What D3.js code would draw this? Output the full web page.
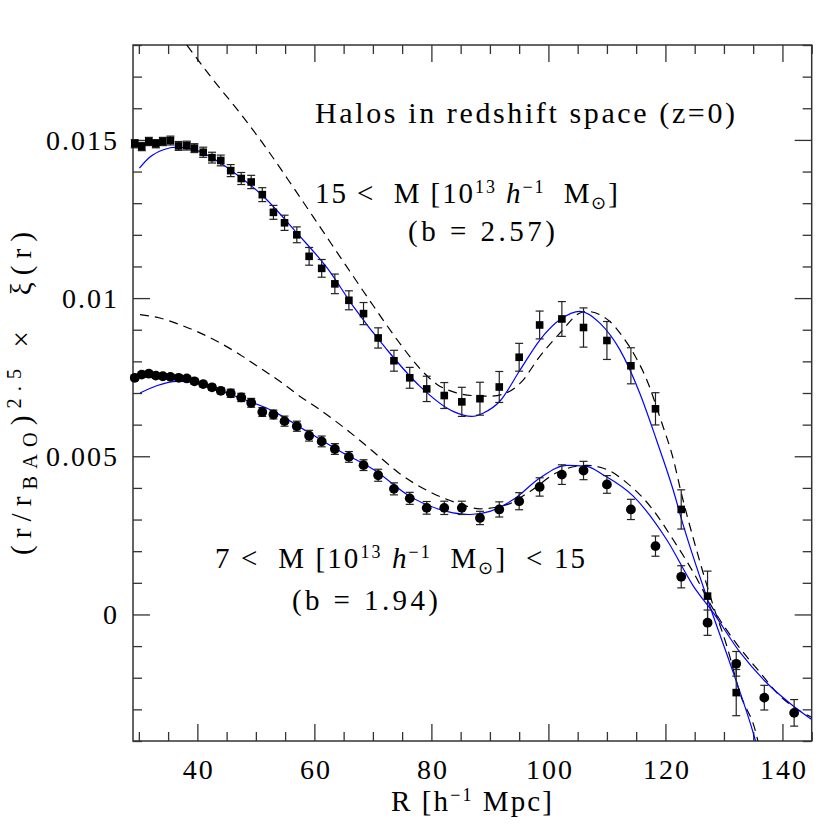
<!DOCTYPE html>
<html>
<head>
<meta charset="utf-8">
<script src="https://cdnjs.cloudflare.com/ajax/libs/d3/7.8.5/d3.min.js"></script>
<style>
  html, body { margin: 0; padding: 0; background: #fff; }
  svg { display: block; font-family: "Liberation Serif", serif; }
  text { white-space: pre; }
</style>
</head>
<body>
<script>
// separation bins, R [h^-1 Mpc]
const rBins = [29.3, 30.5, 31.7, 32.9, 34.1, 35.4, 36.8, 38.2, 39.5, 41.0, 42.5, 44.0, 45.7, 47.5,
  49.2, 51.1, 53.0, 54.9, 57.0, 59.1, 61.25, 63.5, 65.9, 68.4, 70.9, 73.6, 76.3, 79.2, 82.2, 85.2,
  88.3, 91.6, 95.0, 98.5, 102.3, 106.0, 110.0, 114.1, 118.3, 122.7, 127.2, 132.1, 136.9, 142.0];

// 15 < M  (squares)
const hiXi = [0.01488, 0.01479, 0.01495, 0.01488, 0.01495, 0.01498, 0.01481, 0.01482, 0.01474, 0.01461,
  0.01444, 0.01435, 0.01403, 0.01378, 0.01367, 0.01327, 0.01271, 0.01238, 0.01200, 0.01132, 0.01094,
  0.01045, 0.00993, 0.00951, 0.00874, 0.00802, 0.00748, 0.00713, 0.00692, 0.00672, 0.00682, 0.00719,
  0.00813, 0.00915, 0.00934, 0.00907, 0.00866, 0.00786, 0.00650, 0.00332, 0.00058, -0.00247, null, null];
const hiErr = [0.00013, 0.00013, 0.00013, 0.00013, 0.00013, 0.00014, 0.00014, 0.00014, 0.00014, 0.00016,
  0.00017, 0.00017, 0.00019, 0.00019, 0.00021, 0.00022, 0.00022, 0.00024, 0.00025, 0.00028, 0.00028,
  0.00031, 0.00030, 0.00035, 0.00032, 0.00033, 0.00033, 0.00040, 0.00041, 0.00046, 0.00052, 0.00049,
  0.00044, 0.00044, 0.00055, 0.00062, 0.00060, 0.00057, 0.00051, 0.00062, 0.00079, 0.00073, null, null];

// 7 < M < 15  (circles)
const loXi = [0.00748, 0.00758, 0.00761, 0.00755, 0.00753, 0.00751, 0.00748, 0.00746, 0.00737, 0.00728,
  0.00718, 0.00707, 0.00699, 0.00686, 0.00669, 0.00640, 0.00632, 0.00611, 0.00595, 0.00565, 0.00547,
  0.00523, 0.00498, 0.00472, 0.00440, 0.00397, 0.00367, 0.00337, 0.00337, 0.00337, 0.00305, 0.00332,
  0.00358, 0.00403, 0.00442, 0.00455, 0.00411, 0.00332, 0.00216, 0.00119, -0.00026, -0.00156, -0.00263, -0.00311];
const loErr = [0.00008, 0.00008, 0.00008, 0.00008, 0.00008, 0.00008, 0.00008, 0.00008, 0.00009, 0.00009,
  0.00009, 0.00009, 0.00013, 0.00013, 0.00014, 0.00014, 0.00014, 0.00016, 0.00016, 0.00017, 0.00017,
  0.00017, 0.00017, 0.00017, 0.00019, 0.00019, 0.00019, 0.00020, 0.00021, 0.00021, 0.00021, 0.00024,
  0.00027, 0.00029, 0.00031, 0.00029, 0.00028, 0.00032, 0.00032, 0.00035, 0.00040, 0.00039, 0.00039, 0.00042];

// model curves (blue = fitted, dashed = linear)
const hiFitR = [30.1, 31.9, 34.2, 36.5, 39.9, 45.6, 51.3, 57.0, 62.4, 66.65, 72.4, 78.05, 83.7, 86.9, 88.9,
  91.7, 95.1, 98.6, 102.0, 105.4, 108.8, 112.2, 115.6, 118.5, 121.3, 123.1, 127.6, 131.6, 135.0, 135.4];
const hiFitXi = [0.01411, 0.01446, 0.01469, 0.01477, 0.01467, 0.01406, 0.01321, 0.01206, 0.01090, 0.00974,
  0.00837, 0.00721, 0.00642, 0.00626, 0.00637, 0.00674, 0.00771, 0.00869, 0.00932, 0.00958, 0.00921,
  0.00837, 0.00700, 0.00550, 0.00395, 0.00279, 0.00026, -0.00184, -0.00374, -0.0040];
const hiLinR = [38.2, 42.7, 47.3, 51.85, 56.4, 60.96, 65.5, 70.1, 74.4, 78.1, 80.9, 84.0, 87.0, 90.0, 92.5,
  95.4, 98.3, 102.0, 105.4, 106.5, 110.5, 112.2, 114.5, 116.8, 119.3, 121.5, 122.5, 125.3, 128.2, 130.5,
  132.7, 135.6, 135.8];
const hiLinXi = [0.0180, 0.01690, 0.01585, 0.01472, 0.01350, 0.01225, 0.01100, 0.00975, 0.00862, 0.00776,
  0.00728, 0.00702, 0.00692, 0.00690, 0.00698, 0.00735, 0.00810, 0.00890, 0.00953, 0.00958, 0.00926,
  0.00890, 0.00827, 0.00742, 0.00610, 0.00480, 0.00400, 0.00205, 0.00026, -0.00100, -0.00247, -0.00384, -0.0040];
const loFitR = [30.2, 33.05, 36.5, 38.7, 42.7, 47.3, 53.0, 58.7, 64.4, 70.1, 76.7, 82.6, 86.6, 90.0, 94.0,
  98.6, 103.1, 106.5, 109.5, 114.5, 120.2, 124.8, 128.2, 132.8, 137.3, 141.9, 145.0];
const loFitXi = [0.00700, 0.00723, 0.00737, 0.00736, 0.00716, 0.00684, 0.00642, 0.00579, 0.00516, 0.00458,
  0.00369, 0.00326, 0.00316, 0.00326, 0.00363, 0.00432, 0.00471, 0.00468, 0.00440, 0.00374, 0.00237,
  0.00089, 0.00005, -0.00121, -0.00216, -0.00290, -0.00332];
const loLinR = [30.2, 33.6, 37.0, 40.45, 43.9, 47.3, 50.7, 54.1, 57.5, 60.96, 64.4, 67.8, 71.2, 74.6, 79.8,
  84.3, 88.3, 92.9, 96.85, 101.4, 106.5, 110.0, 113.4, 117.4, 121.3, 124.8, 128.2, 131.6, 136.2, 139.6, 143.0, 145.0];
const loLinXi = [0.00948, 0.00937, 0.00916, 0.00890, 0.00858, 0.00821, 0.00779, 0.00737, 0.00690, 0.00647,
  0.00600, 0.00550, 0.00497, 0.00445, 0.00387, 0.00353, 0.00334, 0.00347, 0.00389, 0.00448, 0.00471,
  0.00458, 0.00416, 0.00342, 0.00237, 0.00132, 0.00016, -0.00079, -0.00184, -0.00258, -0.00305, -0.00325];

const xTicks = [40, 60, 80, 100, 120, 140];
const yTicks = [0, 0.005, 0.01, 0.015];

const W = 830, H = 830;
const margin = {top: 45, right: 18.3, bottom: 89, left: 133};
const w = W - margin.left - margin.right;
const h = H - margin.top - margin.bottom;

const svg = d3.select("body").append("svg")
  .attr("width", W).attr("height", H);

const g = svg.append("g").attr("transform", `translate(${margin.left},${margin.top})`);

const x = d3.scaleLinear().domain([29, 145]).range([0, w]);
const y = d3.scaleLinear().domain([-0.004, 0.018]).range([h, 0]);

svg.append("defs").append("clipPath").attr("id", "plot")
  .append("rect").attr("width", w).attr("height", h);

// axes: minor + major ticks on all four sides, pointing inward
const axisColor = "#333";
const xMinor = x.ticks(24).filter(d => !xTicks.includes(d));
const yMinor = y.ticks(22).filter(d => !yTicks.some(t => Math.abs(t - d) < 1e-9));

function styleAxis(sel) {
  sel.select(".domain").remove();
  sel.selectAll("line").attr("stroke", axisColor).attr("stroke-width", 1.3);
}
function styleLabels(sel) {
  sel.attr("fill", "#000").attr("font-size", 28)
    .attr("font-family", "Liberation Serif").attr("letter-spacing", 2);
}

g.append("g").attr("transform", `translate(0,${h})`)
  .call(d3.axisBottom(x).tickValues(xMinor).tickSize(-9).tickFormat("")).call(styleAxis);
g.append("g").attr("transform", `translate(0,${h})`)
  .call(d3.axisBottom(x).tickValues(xTicks).tickSize(-17).tickFormat(d3.format("d")))
  .call(styleAxis)
  .call(s => s.selectAll("text").attr("y", 38).attr("dy", null).attr("dx", "1").call(styleLabels));
g.append("g").call(d3.axisTop(x).tickValues(xMinor).tickSize(-9).tickFormat("")).call(styleAxis);
g.append("g").call(d3.axisTop(x).tickValues(xTicks).tickSize(-17).tickFormat("")).call(styleAxis);

g.append("g").call(d3.axisLeft(y).tickValues(yMinor).tickSize(-9).tickFormat("")).call(styleAxis);
g.append("g")
  .call(d3.axisLeft(y).tickValues(yTicks).tickSize(-17).tickFormat(d3.format("~g")))
  .call(styleAxis)
  .call(s => s.selectAll("text").attr("x", -14).attr("dy", "0.34em").call(styleLabels));
g.append("g").attr("transform", `translate(${w},0)`)
  .call(d3.axisRight(y).tickValues(yMinor).tickSize(-9).tickFormat("")).call(styleAxis);
g.append("g").attr("transform", `translate(${w},0)`)
  .call(d3.axisRight(y).tickValues(yTicks).tickSize(-17).tickFormat("")).call(styleAxis);

g.append("rect").attr("width", w).attr("height", h)
  .attr("fill", "none").attr("stroke", axisColor).attr("stroke-width", 1.5);

// model curves
const curves = g.append("g").attr("clip-path", "url(#plot)");
const line = d3.line().x(d => x(d[0])).y(d => y(d[1])).curve(d3.curveMonotoneX);
const pair = (rs, vs) => rs.map((r, i) => [r, vs[i]]);

[[hiLinR, hiLinXi], [loLinR, loLinXi]].forEach(([rs, vs]) => {
  curves.append("path").attr("d", line(pair(rs, vs)))
    .attr("fill", "none").attr("stroke", "#000").attr("stroke-width", 1.2)
    .attr("stroke-dasharray", "9,6");
});
[[hiFitR, hiFitXi], [loFitR, loFitXi]].forEach(([rs, vs]) => {
  curves.append("path").attr("d", line(pair(rs, vs)))
    .attr("fill", "none").attr("stroke", "#0000ff").attr("stroke-width", 1.2);
});

// measurements with error bars
function points(vals, errs, shape) {
  const data = rBins.map((r, i) => ({r, v: vals[i], e: errs[i]})).filter(d => d.v !== null);
  const grp = g.append("g");
  const bars = grp.selectAll("g.bar").data(data).enter().append("g").attr("class", "bar")
    .attr("stroke", "#222").attr("stroke-width", 1.2);
  bars.append("line")
    .attr("x1", d => x(d.r)).attr("x2", d => x(d.r))
    .attr("y1", d => y(d.v - d.e)).attr("y2", d => y(d.v + d.e));
  bars.append("line")
    .attr("x1", d => x(d.r) - 4).attr("x2", d => x(d.r) + 4)
    .attr("y1", d => y(d.v - d.e)).attr("y2", d => y(d.v - d.e));
  bars.append("line")
    .attr("x1", d => x(d.r) - 4).attr("x2", d => x(d.r) + 4)
    .attr("y1", d => y(d.v + d.e)).attr("y2", d => y(d.v + d.e));
  if (shape === "square") {
    grp.selectAll("rect.pt").data(data).enter().append("rect").attr("class", "pt")
      .attr("x", d => x(d.r) - 3.8).attr("y", d => y(d.v) - 3.8)
      .attr("width", 7.6).attr("height", 7.6).attr("fill", "#000");
  } else {
    grp.selectAll("circle.pt").data(data).enter().append("circle").attr("class", "pt")
      .attr("cx", d => x(d.r)).attr("cy", d => y(d.v)).attr("r", 4.9).attr("fill", "#000");
  }
}
points(hiXi, hiErr, "square");
points(loXi, loErr, "circle");

// text with sub/superscripts
function richText(parent, segs, opts) {
  const size = opts.size || 29;
  const t = parent.append("text")
    .attr("x", opts.x).attr("y", opts.y)
    .attr("font-size", size).attr("fill", "#000");
  if (opts.transform) t.attr("transform", opts.transform);
  if (opts.len) t.attr("textLength", opts.len).attr("lengthAdjust", "spacing");
  let shift = 0;
  segs.forEach(s => {
    const target = s.sup ? -0.36 * size : s.sub ? 0.22 * size : 0;
    const ts = t.append("tspan").text(s.t).attr("dy", target - shift);
    shift = target;
    if (s.sup || s.sub) ts.attr("font-size", size * (opts.scriptScale || 0.62));
    if (s.it) ts.attr("font-style", "italic");
  });
  return t;
}

const titleText = "Halos in redshift space (z=0)";
const hiLabel = [{t: "15 <  M [10"}, {t: "13", sup: true}, {t: " "}, {t: "h", it: true},
  {t: "−1", sup: true}, {t: "  M"}, {t: "⊙", sub: true}, {t: "]"}];
const loLabel = [{t: "7 <  M [10"}, {t: "13", sup: true}, {t: " "}, {t: "h", it: true},
  {t: "−1", sup: true}, {t: "  M"}, {t: "⊙", sub: true}, {t: "]  < 15"}];
const hiBias = "(b = 2.57)";
const loBias = "(b = 1.94)";

richText(svg, [{t: titleText}], {x: 315, y: 123, size: 30, len: 420});
richText(svg, hiLabel, {x: 315, y: 203, len: 303});
richText(svg, [{t: hiBias}], {x: 408, y: 241, len: 147});
richText(svg, loLabel, {x: 215, y: 568, len: 370});
richText(svg, [{t: loBias}], {x: 292, y: 610, len: 146});

// axis titles
richText(svg, [{t: "R [h"}, {t: "−1", sup: true}, {t: " Mpc]"}],
  {x: 391, y: 811, len: 161});
richText(svg, [{t: "(r/r"}, {t: "BAO", sub: true}, {t: ")"}, {t: "2.5", sup: true}, {t: " ×  ξ(r)"}],
  {x: 0, y: 0, len: 323, scriptScale: 0.7, transform: "translate(31,555) rotate(-90)"});
</script>
</body>
</html>
